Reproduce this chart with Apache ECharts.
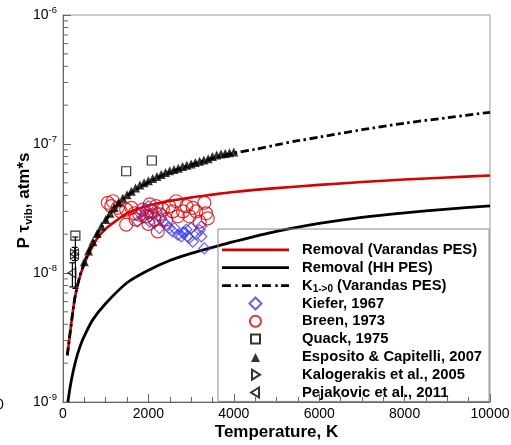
<!DOCTYPE html>
<html><head><meta charset="utf-8">
<script src="https://cdn.jsdelivr.net/npm/echarts@6/dist/echarts.min.js"></script>
<style>html,body{margin:0;padding:0;background:#fff}#c{width:511px;height:445px}</style>
</head><body><div id="c"></div>
<script>
// ---- data (T in K, P*tau in atm*s) ----
const removalVarandas = [[100,2.3e-9],[150,3.1e-9],[200,4.2e-9],[250,5.6e-9],[300,7.0e-9],[400,9.5e-9],[500,1.18e-8],[600,1.4e-8],[800,1.85e-8],[1000,2.2e-8],[1250,2.55e-8],[1500,2.9e-8],[2000,3.33e-8],[2500,3.62e-8],[3000,3.85e-8],[3500,4.05e-8],[4000,4.25e-8],[5000,4.55e-8],[6000,4.82e-8],[7000,5.07e-8],[8000,5.3e-8],[9000,5.5e-8],[10000,5.7e-8]];
const removalHH = [[115,1.0e-9],[150,1.2e-9],[200,1.5e-9],[300,2.1e-9],[400,2.7e-9],[500,3.25e-9],[700,4.35e-9],[1000,5.8e-9],[1500,8.4e-9],[2000,1.05e-8],[2500,1.25e-8],[3000,1.42e-8],[3500,1.58e-8],[4000,1.75e-8],[5000,2.1e-8],[6000,2.42e-8],[7000,2.7e-8],[8000,2.93e-8],[9000,3.13e-8],[10000,3.32e-8]];
const k10Varandas = [[100,2.3e-9],[150,3.1e-9],[200,4.2e-9],[250,5.6e-9],[300,7.0e-9],[400,9.6e-9],[500,1.2e-8],[600,1.46e-8],[800,2.0e-8],[1000,2.55e-8],[1250,3.3e-8],[1500,3.95e-8],[2000,5.05e-8],[2500,6.05e-8],[3000,6.9e-8],[3500,7.75e-8],[4000,8.5e-8],[4500,9.1e-8],[5000,9.85e-8],[5500,1.06e-7],[6000,1.13e-7],[7000,1.29e-7],[8000,1.45e-7],[9000,1.6e-7],[10000,1.76e-7]];
const kiefer = [[1750,2.5e-8],[1870,2.67e-8],[1990,2.83e-8],[2030,2.5e-8],[2140,2.45e-8],[2260,2.23e-8],[2300,2.67e-8],[2340,2.5e-8],[2420,2.37e-8],[2490,2.23e-8],[2570,2.1e-8],[2610,2.23e-8],[2690,1.98e-8],[2770,1.92e-8],[2810,2.05e-8],[2850,2.05e-8],[2890,2.17e-8],[2920,1.92e-8],[2960,1.87e-8],[3000,2.23e-8],[3040,1.75e-8],[3120,2.0e-8],[3200,2.15e-8],[3240,2.3e-8],[3240,1.92e-8],[3310,1.55e-8],[1900,3.1e-8],[2000,3.3e-8],[2100,2.9e-8],[2200,3.0e-8],[1800,2.9e-8]];
const breen = [[1050,3.5e-8],[1130,3.3e-8],[1170,3.6e-8],[1280,3.2e-8],[1350,3.0e-8],[1480,3.1e-8],[1480,2.37e-8],[1600,3.2e-8],[1680,2.9e-8],[1790,2.83e-8],[1870,3.1e-8],[1950,2.75e-8],[2030,3.4e-8],[2070,3.0e-8],[2140,2.6e-8],[2180,3.3e-8],[2220,2.1e-8],[2260,2.85e-8],[2340,3.1e-8],[2420,2.6e-8],[2490,3.3e-8],[2570,3.0e-8],[2650,3.6e-8],[2690,2.75e-8],[2810,3.0e-8],[2890,3.3e-8],[2960,2.75e-8],[3040,3.2e-8],[3120,3.0e-8],[3200,2.5e-8],[3310,3.5e-8],[3350,2.9e-8],[3390,2.65e-8],[1700,2.6e-8],[2000,2.4e-8]];
const quack = [[290,1.95e-8],[1480,6.15e-8],[2080,7.45e-8]];
const esposito = [[500,1.22e-8],[600,1.48e-8],[700,1.75e-8],[800,2.02e-8],[900,2.3e-8],[1000,2.6e-8],[1100,2.9e-8],[1200,3.2e-8],[1300,3.5e-8],[1400,3.8e-8],[1500,4.05e-8],[1600,4.3e-8],[1700,4.55e-8],[1800,4.8e-8],[1900,5.0e-8],[2000,5.2e-8],[2100,5.4e-8],[2200,5.6e-8],[2300,5.8e-8],[2400,6.0e-8],[2500,6.2e-8],[2600,6.35e-8],[2700,6.5e-8],[2800,6.7e-8],[2900,6.85e-8],[3000,7.0e-8],[3100,7.2e-8],[3200,7.35e-8],[3300,7.5e-8],[3400,7.7e-8],[3500,8.0e-8],[3600,8.2e-8],[3700,8.35e-8],[3800,8.45e-8],[3900,8.55e-8],[4000,8.65e-8]];
const kalogerakis = [[270,1.4e-8]];
const pejakovic = [[270,1.4e-8],[210,1.0e-8]];
// error bars: [T, low, high]
const errorBars = [[290,7.6e-9,1.9e-8],[220,7.8e-9,1.2e-8],[275,1.25e-8,1.58e-8]];
const yMinorTicks = [2e-9,3e-9,4e-9,5e-9,6e-9,7e-9,8e-9,9e-9,2e-8,3e-8,4e-8,5e-8,6e-8,7e-8,8e-8,9e-8,2e-7,3e-7,4e-7,5e-7,6e-7,7e-7,8e-7,9e-7];
const xTicks = {min:0, max:10000, interval:2000};
const yRange = {min:1e-9, max:1e-6};

const FONT = '"Liberation Sans", Arial, Helvetica, sans-serif';
const names = ['Removal (Varandas PES)','Removal (HH PES)','K1->0 (Varandas PES)','Kiefer, 1967','Breen, 1973','Quack, 1975','Esposito & Capitelli, 2007','Kalogerakis et al., 2005','Pejakovic et al., 2011'];
const legendIcons = [
  'path://M0,0h67v2.6h-67z',
  'path://M0,0h67v2.8h-67z',
  'path://M0,0h9v2.8h-9zM13.3,0h2.4v2.8h-2.4zM20,0h9v2.8h-9zM33.3,0h2.4v2.8h-2.4zM40,0h9v2.8h-9zM53.3,0h2.4v2.8h-2.4zM59,0h8v2.8h-8z',
  'path://M0,0M13,13M6.5,0.5L12.5,6.5L6.5,12.5L0.5,6.5z',
  'path://M0,0M13,13M6.5,1a5.5,5.5,0,1,1,-0.01,0z',
  'path://M0,0M13,13M2,2h9v9h-9z',
  'path://M0,0M13,13M2,11.5L6.5,2.5L11,11.5z',
  'path://M0,0M13,13M3,1.5L11,6.5L3,11.5z',
  'path://M0,0M13,13M10,1.5L2,6.5L10,11.5z'
];

const chart = echarts.init(document.getElementById('c'), null, {renderer:'canvas'});
const hollow = c => ({color:'rgba(0,0,0,0)', borderColor:c, borderWidth:1.2});
chart.setOption({
  animation:false,
  backgroundColor:'#fff',
  grid:{left:63, top:15, width:427, height:387, show:true, borderColor:'#999', borderWidth:1, outerBoundsMode:'none', containLabel:false},
  xAxis:{type:'value', min:xTicks.min, max:xTicks.max, interval:xTicks.interval,
    name:'Temperature, K', nameLocation:'middle', nameGap:22, nameMoveOverlap:false,
    nameTextStyle:{fontFamily:FONT, fontSize:17, fontWeight:'bold', color:'#000', verticalAlign:'top'},
    axisLine:{lineStyle:{color:'#666', width:1}},
    axisTick:{inside:true, length:8, lineStyle:{color:'#666'}},
    minorTick:{show:true, splitNumber:4, length:5, lineStyle:{color:'#666'}},
    splitLine:{show:false},
    axisLabel:{fontFamily:FONT, fontSize:14, color:'#000', margin:5, formatter:v=>String(v)}},
  yAxis:{type:'log', logBase:10, min:yRange.min, max:yRange.max, splitNumber:3,
    name:'{a|P τ}{s|vib}{a|, atm*s}', nameLocation:'middle', nameGap:28, nameRotate:90, nameMoveOverlap:false,
    nameTextStyle:{fontFamily:FONT, fontSize:17, fontWeight:'bold', color:'#000', padding:[0,0,0,16],
      rich:{a:{fontFamily:FONT, fontSize:17, fontWeight:'bold', color:'#000'}, s:{fontFamily:FONT, fontSize:11.5, fontWeight:'bold', color:'#000', padding:[9,0,0,0]}}},
    axisLine:{lineStyle:{color:'#666', width:1}},
    axisTick:{inside:true, length:8, lineStyle:{color:'#666'}},
    splitLine:{show:false},
    axisLabel:{margin:6, formatter:v=>'{b|10}{p|'+Math.round(Math.log10(v))+'}',
      rich:{b:{fontFamily:FONT, fontSize:14, color:'#000'}, p:{fontFamily:FONT, fontSize:9.5, color:'#000', padding:[0,0,9,0]}}}},
  legend:{data:names.map((n,i)=>({name:n, icon:legendIcons[i]})), orient:'vertical', align:'left', left:218, top:229,
    padding:[12,7,0,4], itemWidth:67, itemHeight:13, itemGap:0, symbolKeepAspect:true,
    borderColor:'#888', borderWidth:1, selectedMode:false, backgroundColor:'rgba(0,0,0,0)',
    textStyle:{fontFamily:FONT, fontSize:14.8, fontWeight:'bold', color:'#000', lineHeight:17.8, padding:[0,0,0,8],
      rich:{k:{fontFamily:FONT, fontSize:14.8, fontWeight:'bold', color:'#000', lineHeight:17.8}, s:{fontFamily:FONT, fontSize:10, fontWeight:'bold', color:'#000', lineHeight:17.8, padding:[8,0,0,0]}}},
    formatter:n=> n==='K1->0 (Varandas PES)' ? '{k|K}{s|1->0}{k| (Varandas PES)}' : n},
  graphic:[{type:'text', left:-4, top:398, style:{text:'0', font:'14px '+FONT, fill:'#000'}}],
  series:[
    {type:'custom', name:'yMinor', silent:true, z:1, data:yMinorTicks.map(v=>[0,v]),
      renderItem:(p,api)=>{const c=api.coord([0,api.value(1)]);return {type:'line',shape:{x1:c[0],y1:c[1],x2:c[0]+5,y2:c[1]},style:{stroke:'#666',lineWidth:1}};}},
    {type:'line', name:names[0], data:removalVarandas, symbol:'none', smooth:0.3, lineStyle:{color:'#d20000', width:2.6}, itemStyle:{color:'#d20000'}, z:2},
    {type:'line', name:names[1], data:removalHH, symbol:'none', smooth:0.3, lineStyle:{color:'#000', width:2.8}, itemStyle:{color:'#000'}, z:2},
    {type:'line', name:names[2], data:k10Varandas, symbol:'none', smooth:0.3, lineStyle:{color:'#000', width:2.8, type:[8,3.5,2.5,3.5]}, itemStyle:{color:'#000'}, z:3},
    {type:'scatter', name:names[3], data:kiefer, symbol:'diamond', symbolSize:11, itemStyle:hollow('#3c3cff'), z:4},
    {type:'scatter', name:names[4], data:breen, symbol:'circle', symbolSize:13, itemStyle:hollow('#e00000'), z:5},
    {type:'custom', name:'errbars', silent:true, z:6, data:errorBars, encode:{x:0,y:[1,2]},
      renderItem:(p,api)=>{const a=api.coord([api.value(0),api.value(1)]);const b=api.coord([api.value(0),api.value(2)]);
        const st={stroke:'#000',lineWidth:1.2};
        return {type:'group',children:[
          {type:'line',shape:{x1:a[0],y1:a[1],x2:b[0],y2:b[1]},style:st},
          {type:'line',shape:{x1:a[0]-3,y1:a[1],x2:a[0]+3,y2:a[1]},style:st},
          {type:'line',shape:{x1:b[0]-3,y1:b[1],x2:b[0]+3,y2:b[1]},style:st}]};}},
    {type:'scatter', name:names[5], data:quack, symbol:'rect', symbolSize:9, itemStyle:hollow('#000'), z:7},
    {type:'scatter', name:names[6], data:esposito, symbol:'triangle', symbolSize:9, itemStyle:{color:'#000'}, z:7},
    {type:'scatter', name:names[7], data:kalogerakis, symbol:'path://M0,0L10,5L0,10Z', symbolSize:[8,10], itemStyle:hollow('#000'), z:7},
    {type:'scatter', name:names[8], data:pejakovic, symbol:'path://M10,0L0,5L10,10Z', symbolSize:[8,10], itemStyle:hollow('#000'), z:7}
  ]
});
</script></body></html>
